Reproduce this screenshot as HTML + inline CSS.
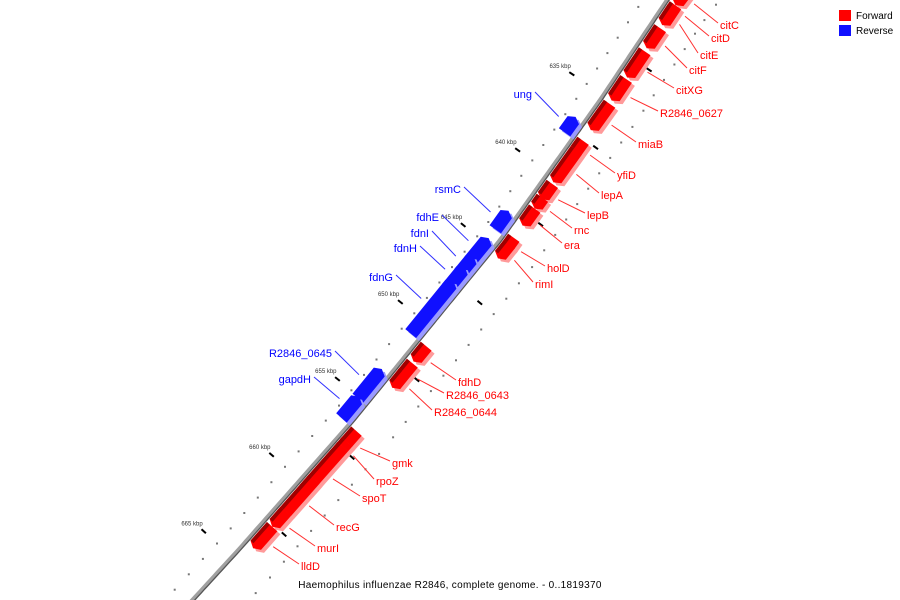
<!DOCTYPE html>
<html><head><meta charset="utf-8"><style>
html,body{margin:0;padding:0;background:#fff;width:900px;height:600px;overflow:hidden;}
svg{display:block;font-family:"Liberation Sans","DejaVu Sans",sans-serif;}
</style></head><body>
<svg id="map" width="900" height="600" viewBox="0 0 900 600" xmlns="http://www.w3.org/2000/svg" overflow="hidden">
<g id="ticks"></g>
<g id="spine"></g>
<g id="genes"></g>
<g id="labels"></g>
<g>
<rect x="839" y="10" width="12" height="11" fill="#ff0000"/>
<text x="856" y="19" font-size="10" fill="#000">Forward</text>
<rect x="839" y="25" width="12" height="11" fill="#1010ff"/>
<text x="856" y="34" font-size="10" fill="#000">Reverse</text>
</g>
<text x="450" y="588" font-size="10" text-anchor="middle" fill="#000" letter-spacing="0.3">Haemophilus influenzae R2846, complete genome. - 0..1819370</text>
</svg>
<script>
const geneNames = ["citC","citD","citE","citF","citXG","R2846_0627","miaB","yfiD","lepA","lepB","rnc","era","holD","rimI","fdhD","R2846_0643","R2846_0644","gmk","rpoZ","spoT","recG","murI","lldD","ung","rsmC","fdhE","fdnI","fdnH","fdnG","R2846_0645","gapdH"];
const geneStart = [627.5,628.8,629.0,630.3,631.8,633.6,635.2,637.6,638.2,640.4,641.3,642.0,643.9,644.3,650.9,652.0,652.6,656.4,657.1,657.4,659.5,661.6,662.6,636.8,642.9,644.7,645.9,646.6,647.5,653.2,655.0];
const geneEnd = [628.8,629.2,630.1,631.6,633.5,635.0,636.9,638.4,640.3,641.4,642.0,643.1,644.6,645.2,651.9,652.9,653.6,657.4,657.7,660.4,661.8,662.6,664.0,637.8,644.1,646.2,647.0,648.0,650.9,655.1,656.4];
const geneStrand = ["+","+","+","+","+","+","+","+","+","+","+","+","+","+","+","+","+","+","+","+","+","+","+","-","-","-","-","-","-","-","-"];
const tickKbp = [635,640,645,650,655,660,665];
const tickLabels = ["635 kbp","640 kbp","645 kbp","650 kbp","655 kbp","660 kbp","665 kbp"];
const rangeStart = 627, rangeEnd = 668;

// layout (pixel placement of gene labels, not data)
const labelLayout = [[720,29],[711,42],[700,59],[689,74],[676,94],[660,117],[638,148],[617,179],[601,199],[587,219],[574,234],[564,249],[547,272],[535,288],[458,386],[446,399],[434,416],[392,467],[376,485],[362,502],[336,531],[317,552],[301,570],[532,98],[461,193],[439,221],[429,237],[417,252],[393,281],[332,357],[311,383]];

const NS="http://www.w3.org/2000/svg";
function mk(tag,attrs,parent){const e=document.createElementNS(NS,tag);for(const k in attrs)e.setAttribute(k,attrs[k]);parent.appendChild(e);return e;}
const curveY=[-20,0,100,240,420,548,620];
const curveX=[682,667,600,500,353,240,174];
function xAt(y){for(let i=0;i<curveY.length-1;i++){if(y<=curveY[i+1]||i==curveY.length-2){const f=(y-curveY[i])/(curveY[i+1]-curveY[i]);return curveX[i]+f*(curveX[i+1]-curveX[i]);}}}
function yOf(k){return 95+(k-635)*15.4;}
function pt(k){const y=yOf(k);return [xAt(y),y];}
function frame(k){const a=pt(k-0.3),b=pt(k+0.3);let dx=b[0]-a[0],dy=b[1]-a[1];const L=Math.hypot(dx,dy);dx/=L;dy/=L;return {t:[dx,dy],n:[dy,-dx]};}
function off(k,d,along){const p=pt(k),f=frame(k);along=along||0;return [p[0]+f.n[0]*d+f.t[0]*along,p[1]+f.n[1]*d+f.t[1]*along];}
function ps(arr){return arr.map(p=>p[0].toFixed(1)+","+p[1].toFixed(1)).join(" ");}

const spine=document.getElementById("spine");
let pts=[];for(let k=rangeStart-1;k<=rangeEnd+1;k+=0.25)pts.push(pt(k));
const s1=mk("polyline",{points:ps(pts),fill:"none",stroke:"#a0a0a0","stroke-width":"4"},spine);


let pts2=[];for(let k=rangeStart-1;k<=rangeEnd+1;k+=0.25)pts2.push(off(k,1.8));
const s2=mk("polyline",{points:ps(pts2),fill:"none",stroke:"#555","stroke-width":"1.3"},spine);



const tg=document.getElementById("ticks");
for(let k=rangeStart;k<=rangeEnd;k++){
  const a=off(k,-20);
  const d=mk("rect",{x:(a[0]-1).toFixed(1),y:(a[1]-1).toFixed(1),width:2,height:2,fill:"#777"},tg);
  
  
  const b=off(k+0.5,42);
  const d2=mk("rect",{x:(b[0]-1).toFixed(1),y:(b[1]-1).toFixed(1),width:2,height:2,fill:"#777"},tg);
  
  
}
for(let k=rangeStart+0.5;k<=rangeEnd;k+=5){
  const f=frame(k),c=off(k,24);
  const l=mk("line",{x1:(c[0]-f.n[0]*3).toFixed(1),y1:(c[1]-f.n[1]*3).toFixed(1),x2:(c[0]+f.n[0]*3).toFixed(1),y2:(c[1]+f.n[1]*3).toFixed(1),stroke:"#000","stroke-width":"2"},tg);
  
  
}
tickKbp.forEach((k,i)=>{
  const f=frame(k),c=off(k,-38);
  const l=mk("line",{x1:(c[0]-f.n[0]*3).toFixed(1),y1:(c[1]-f.n[1]*3).toFixed(1),x2:(c[0]+f.n[0]*3).toFixed(1),y2:(c[1]+f.n[1]*3).toFixed(1),stroke:"#000","stroke-width":"2"},tg);
  
  
  const t=mk("text",{x:(c[0]-1).toFixed(1),y:(c[1]-6).toFixed(1),"font-size":"6","text-anchor":"end",fill:"#333"},tg);
  t.textContent=tickLabels[i];
  
  
});

const gg=document.getElementById("genes"),lg=document.getElementById("labels");
geneNames.forEach((name,i)=>{
  const fwd=geneStrand[i]==="+";
  const s=geneStart[i],e=geneEnd[i];
  const sg=fwd?1:-1;
  const d1=3*sg,d2=17*sg,dm=10*sg;
  const len=(yOf(e)-yOf(s));
  const ah=Math.min(4,len*0.35);
  let poly;
  if(fwd){poly=[off(s,d1),off(e,d1,-ah),off(e,dm),off(e,d2,-ah),off(s,d2)];}
  else{poly=[off(e,d1),off(s,d1,ah),off(s,dm),off(s,d2,ah),off(e,d2)];}
  const g=mk("g",{},gg);
  
  
  const light=fwd?"#ff9a9a":"#9a9aff", main=fwd?"#ff0000":"#1010ff", dark=fwd?"#a00000":"#0000a0";
  mk("polygon",{points:ps(poly.map(p=>[p[0]+3,p[1]+3])),fill:light},g);
  mk("polygon",{points:ps(poly),fill:main},g);
  if(fwd){const strip=[off(s,d1),off(e,d1,-ah),off(e,d1+4,-ah),off(s,d1+4)];mk("polygon",{points:ps(strip),fill:dark},g);}
  const m=(s+e)/2, anchor=off(m,fwd?24:-24);
  const L=labelLayout[i];
  const lx=fwd?L[0]-2:L[0]+3, ly=L[1]-6;
  const ln=mk("line",{x1:anchor[0].toFixed(1),y1:anchor[1].toFixed(1),x2:lx,y2:ly,stroke:fwd?"#ff3030":"#3030ff","stroke-width":"1"},lg);
  
  
  const t=mk("text",{x:L[0],y:L[1],"font-size":"11","text-anchor":fwd?"start":"end",fill:fwd?"#ff0000":"#0000ff"},lg);
  t.textContent=name;
  
  
});
</script>
</body></html>
